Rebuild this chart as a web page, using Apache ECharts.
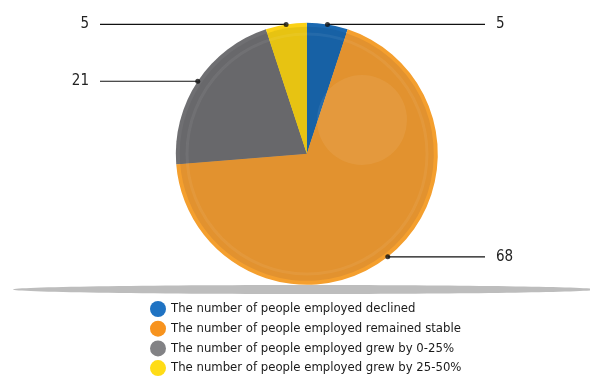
<!DOCTYPE html>
<html><head><meta charset="utf-8">
<script src="https://cdn.jsdelivr.net/npm/echarts@6/dist/echarts.min.js"></script>
<style>html,body{margin:0;padding:0;background:#fff}#c{width:590px;height:377px}</style>
</head><body><div id="c"></div>
<script>
const categories = [
  'The number of people employed declined',
  'The number of people employed remained stable',
  'The number of people employed grew by 0-25%',
  'The number of people employed grew by 25-50%'
];
const values = [5, 68, 21, 5];
const sliceColors = ['#1761a5', '#e2922f', '#68686b', '#e7c312'];
const rimColors = ['#1b69b1', '#f49f2e', '#6f6f72', '#fbd116'];
const legendColors = ['#1f73c3', '#f7931e', '#828285', '#ffdc16'];

const FONT = '"Liberation Sans Narrow", "DejaVu Sans Condensed", sans-serif';
const total = values.reduce((a, b) => a + b, 0);
const mids = [];
let acc = 0;
values.forEach(v => { mids.push(acc + v / 2); acc += v; });

const center = ['52%', '40.8%'];
const R = 131;
const LEFT_LINE_END = 100, RIGHT_LINE_END = 485, TEXT_GAP = 11;

const chart = echarts.init(document.getElementById('c'));
chart.setOption({
  animation: false,
  polar: { center: center, radius: R },
  angleAxis: { type: 'value', min: 0, max: total, startAngle: 90, clockwise: true, show: false },
  radiusAxis: { type: 'value', min: 0, max: 1, show: false },
  legend: {
    orient: 'vertical', left: 145, top: 296, height: 120, itemGap: 3.7,
    icon: 'circle', itemWidth: 16, itemHeight: 16,
    textStyle: { fontFamily: FONT, fontSize: 13, color: '#1a1a1a' },
    data: categories.map((n, i) => ({ name: n, itemStyle: { color: legendColors[i] } }))
  },
  graphic: [
    { type: 'ellipse', z: -1, silent: true, shape: { cx: 305, cy: 289.5, rx: 292, ry: 4.5 }, style: { fill: '#bdbdbd' } },
    { type: 'circle', z: 10, silent: true, shape: { cx: 362, cy: 120, r: 45 }, style: { fill: 'rgba(255,255,255,0.07)' } },
    { type: 'circle', z: 10, silent: true, shape: { cx: 307, cy: 154, r: 120 }, style: { fill: 'none', stroke: 'rgba(255,255,255,0.06)', lineWidth: 3 } }
  ],
  series: [
    {
      type: 'pie', center: center, radius: [0, R], startAngle: 90, clockwise: true,
      data: categories.map((n, i) => ({ name: n, value: values[i], itemStyle: { color: rimColors[i] } })),
      label: {
        show: true, position: 'outside', formatter: '{c}',
        fontFamily: FONT, fontSize: 15, color: '#222'
      },
      labelLine: { show: true, length: 4, length2: 20, lineStyle: { color: '#111', width: 1.2 } },
      labelLayout: function (p) {
        const pts = p.labelLinePoints;
        if (!pts) return {};
        const start = pts[0];
        const isLeft = start[0] < p.rect.x + p.rect.width / 2;
        const y = start[1];
        const endX = isLeft ? LEFT_LINE_END : RIGHT_LINE_END;
        return {
          x: isLeft ? endX - TEXT_GAP : endX + TEXT_GAP,
          y: y,
          align: isLeft ? 'right' : 'left',
          verticalAlign: 'middle',
          labelLinePoints: [start, start, [endX, y]]
        };
      },
      silent: true, z: 1
    },
    {
      type: 'pie', center: center, radius: [0, R - 4], startAngle: 90, clockwise: true,
      data: categories.map((n, i) => ({ name: n, value: values[i], itemStyle: { color: sliceColors[i] } })),
      label: { show: false }, labelLine: { show: false }, z: 2
    },
    {
      type: 'scatter', coordinateSystem: 'polar', symbolSize: 5, silent: true,
      itemStyle: { color: '#111' }, z: 5,
      data: mids.map(m => [1, m])
    }
  ]
});
</script></body></html>
